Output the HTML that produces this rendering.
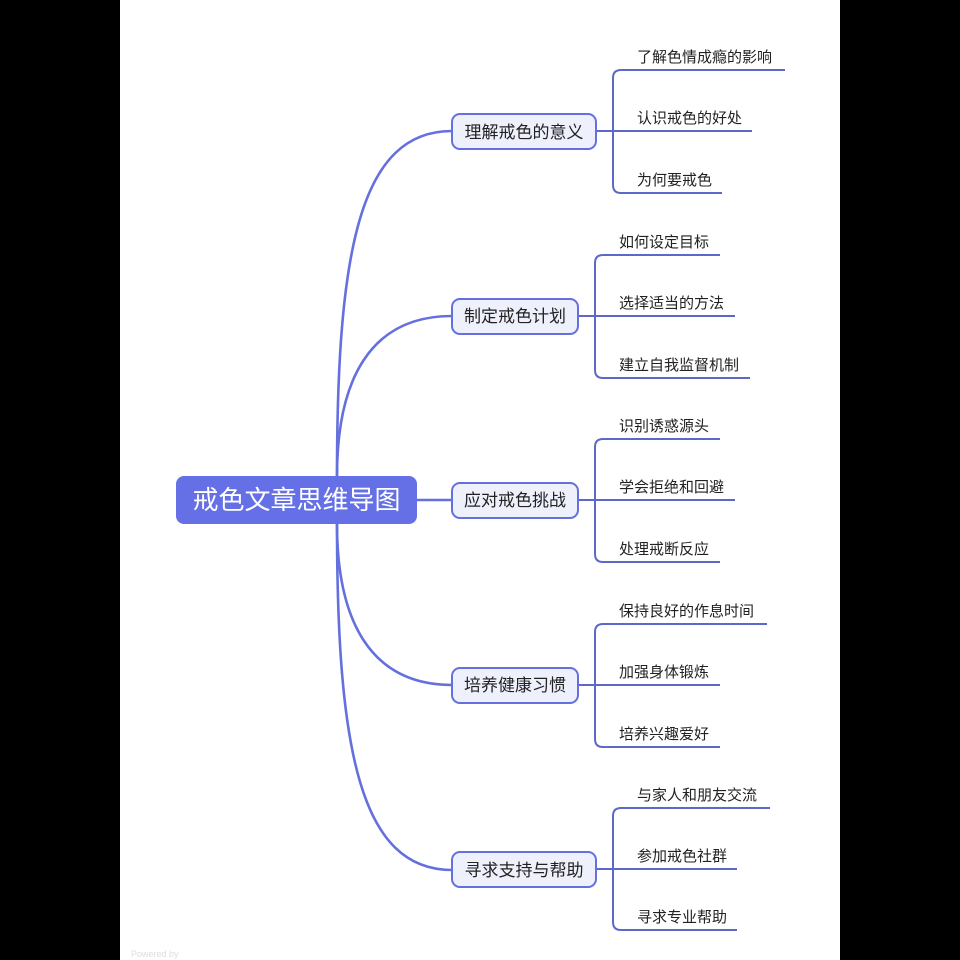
<!DOCTYPE html>
<html><head><meta charset="utf-8"><style>
html,body{margin:0;padding:0;background:#000;}
svg{display:block;}
text{font-family:"Liberation Sans","Noto Sans CJK SC",sans-serif;}
</style></head><body>
<svg width="960" height="960" viewBox="0 0 960 960" xmlns="http://www.w3.org/2000/svg">
<rect x="0" y="0" width="960" height="960" fill="#000"/>
<rect x="120" y="0" width="720" height="960" fill="#fff"/>
<g fill="none" stroke="#6570df" stroke-width="2.6">
<line x1="417" y1="500" x2="452" y2="500"/>
<path d="M337 476 C337 250 360 131 452 131"/>
<path d="M337 476 C337 380 370 316 452 316"/>
<path d="M337 524 C337 620 370 685 452 685"/>
<path d="M337 524 C337 750 360 870 452 870"/>
</g>
<g fill="none" stroke="#5d68c8" stroke-width="2">
<line x1="596" y1="131" x2="752" y2="131"/>
<path d="M785 70 H621 Q613 70 613 78 V185 Q613 193 621 193 H722"/>
<line x1="578" y1="316" x2="735" y2="316"/>
<path d="M720 255 H603 Q595 255 595 263 V370 Q595 378 603 378 H750"/>
<line x1="578" y1="500" x2="735" y2="500"/>
<path d="M720 439 H603 Q595 439 595 447 V554 Q595 562 603 562 H720"/>
<line x1="578" y1="685" x2="720" y2="685"/>
<path d="M767 624 H603 Q595 624 595 632 V739 Q595 747 603 747 H720"/>
<line x1="596" y1="869" x2="737" y2="869"/>
<path d="M770 808 H621 Q613 808 613 816 V922 Q613 930 621 930 H737"/>
</g>
<rect x="176" y="476" width="241" height="48" rx="8" fill="#6570e6"/>
<text x="296.5" y="509" font-size="26" fill="#fff" text-anchor="middle">戒色文章思维导图</text>
<g fill="#eef0fc" stroke="#6570df" stroke-width="2">
<rect x="452" y="114" width="144" height="35" rx="8"/>
<rect x="452" y="299" width="126" height="35" rx="8"/>
<rect x="452" y="483" width="126" height="35" rx="8"/>
<rect x="452" y="668" width="126" height="35" rx="8"/>
<rect x="452" y="852" width="144" height="35" rx="8"/>
</g>
<g font-size="17" fill="#222" text-anchor="middle">
<text x="524" y="138">理解戒色的意义</text>
<text x="515" y="322">制定戒色计划</text>
<text x="515" y="506">应对戒色挑战</text>
<text x="515" y="691">培养健康习惯</text>
<text x="524" y="876">寻求支持与帮助</text>
</g>
<g font-size="15" fill="#222">
<text x="637" y="62">了解色情成瘾的影响</text>
<text x="637" y="123">认识戒色的好处</text>
<text x="637" y="185">为何要戒色</text>
<text x="619" y="247">如何设定目标</text>
<text x="619" y="308">选择适当的方法</text>
<text x="619" y="370">建立自我监督机制</text>
<text x="619" y="431">识别诱惑源头</text>
<text x="619" y="492">学会拒绝和回避</text>
<text x="619" y="554">处理戒断反应</text>
<text x="619" y="616">保持良好的作息时间</text>
<text x="619" y="677">加强身体锻炼</text>
<text x="619" y="739">培养兴趣爱好</text>
<text x="637" y="800">与家人和朋友交流</text>
<text x="637" y="861">参加戒色社群</text>
<text x="637" y="922">寻求专业帮助</text>
</g>
<text x="131" y="957" font-size="9" fill="#ddd">Powered by</text>
</svg>
</body></html>
